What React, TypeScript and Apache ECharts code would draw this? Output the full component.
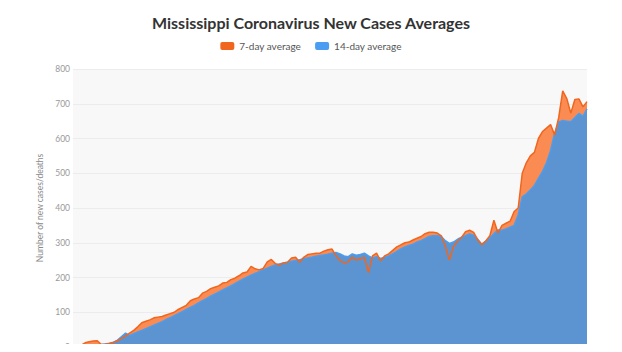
import React, { useEffect, useRef } from "react";
import * as echarts from "echarts";

const avg7: number[] = [
  3, 4, 5, 12, 15, 17, 18, 7, 8, 10, 13, 18, 25, 32,
  40, 48, 58, 70, 74, 78, 84, 86, 88, 92, 96, 100, 108, 114, 120, 133,
  138, 142, 155, 160, 168, 172, 176, 184, 186, 194, 198, 205, 213, 216,
  232, 225, 222, 226, 245, 252, 240, 236, 242, 244, 256, 258, 244, 258,
  266, 268, 270, 270, 276, 280, 282, 262, 248, 242, 245, 258, 250, 254,
  258, 214, 262, 270, 248, 262, 268, 278, 288, 294, 300, 302, 308, 313,
  318, 326, 330, 330, 328, 320, 290, 250, 288, 305, 315, 332, 336, 330,
  308, 294, 305, 320, 365, 328, 350, 356, 362, 390, 400, 500, 530, 550,
  560, 600, 620, 630, 640, 610, 660, 737, 715, 673, 712, 714, 691, 706,
];

const avg14: number[] = [
  3, 3, 4, 4, 5, 5, 6, 7, 9, 11, 14, 20, 30, 40,
  33, 38, 43, 48, 53, 58, 63, 68, 73, 79, 84, 90, 96, 102, 108, 114,
  120, 127, 133, 139, 146, 152, 158, 164, 170, 176, 182, 189, 195, 201,
  207, 212, 217, 222, 227, 232, 236, 239, 242, 244, 247, 249, 251, 254,
  256, 258, 261, 263, 265, 267, 270, 272, 268, 262, 260, 268, 264, 266,
  270, 262, 256, 260, 255, 258, 262, 268, 275, 282, 288, 292, 296, 302,
  306, 312, 318, 320, 320, 318, 306, 298, 302, 310, 316, 320, 325, 322,
  310, 296, 305, 314, 326, 337, 336, 340, 345, 350, 380, 432, 440, 452,
  465, 485, 505, 530, 565, 615, 647, 652, 650, 648, 660, 672, 664, 685,
];

const monthNames = ["Mar", "Apr", "May", "Jun", "Jul"];
const monthStartDay = [11, 1, 1, 1, 1];
const monthLengths = [31, 30, 31, 30, 31];

function buildDates(n: number): string[] {
  const out: string[] = [];
  let m = 0;
  let d = monthStartDay[0];
  while (out.length < n) {
    out.push(monthNames[m] + " " + d);
    d++;
    if (d > monthLengths[m]) {
      m++;
      d = 1;
    }
  }
  return out;
}

const dates = buildDates(avg7.length);

const yTicks = { min: 0, max: 800, interval: 100 };

const ORANGE_LINE = "#f0661e";
const ORANGE_FILL = "#fa8b52";
const BLUE_LINE = "#4a9df0";
const BLUE_FILL = "#5b94d0";

export default function App() {
  const ref = useRef<HTMLDivElement>(null);
  useEffect(() => {
    if (!ref.current) return;
    const chart = echarts.init(ref.current, null, { renderer: "svg" });
    chart.setOption({
      animation: false,
      backgroundColor: "#ffffff",
      title: {
        text: "Mississippi Coronavirus New Cases Averages",
        left: "center",
        top: 9,
        textStyle: {
          fontFamily: "Lato",
          fontWeight: "bold",
          fontSize: 16,
          color: "#333333",
        },
      },
      legend: {
        top: 36,
        left: "center",
        itemWidth: 14,
        itemHeight: 8,
        itemGap: 14,
        itemTextGap: 4,
        data: [
          { name: "7-day average", itemStyle: { color: ORANGE_LINE } },
          { name: "14-day average", itemStyle: { color: BLUE_LINE } },
        ],
        icon: "roundRect",
        textStyle: { fontFamily: "Lato", fontSize: 10, color: "#555555" },
      },
      grid: {
        left: 73,
        right: 35,
        top: 69,
        bottom: 5,
        show: true,
        backgroundColor: "#f8f8f8",
        borderWidth: 0,
      },
      xAxis: {
        type: "category",
        data: dates,
        boundaryGap: false,
        axisLine: { show: false },
        axisTick: { show: false },
        axisLabel: { show: false },
        splitLine: { show: false },
      },
      yAxis: {
        type: "value",
        min: yTicks.min,
        max: yTicks.max,
        interval: yTicks.interval,
        name: "Number of new cases/deaths",
        nameLocation: "middle",
        nameGap: 18,
        nameTextStyle: { fontFamily: "Lato", fontSize: 8.5, color: "#888888" },
        axisLine: { show: false },
        axisTick: { show: false },
        axisLabel: {
          fontFamily: "Lato",
          fontSize: 8.5,
          color: "#999999",
          margin: 3,
        },
        splitLine: { lineStyle: { color: "#ececec", width: 1 } },
      },
      series: [
        {
          name: "7-day average",
          type: "line",
          data: avg7,
          z: 1,
          showSymbol: false,
          lineStyle: { width: 0 },
          itemStyle: { color: ORANGE_LINE },
          areaStyle: { color: ORANGE_FILL, opacity: 1 },
        },
        {
          name: "14-day average",
          type: "line",
          data: avg14,
          z: 2,
          symbol: "circle",
          symbolSize: 3.5,
          showSymbol: true,
          lineStyle: { color: BLUE_LINE, width: 1.5 },
          itemStyle: { color: BLUE_LINE },
          areaStyle: { color: BLUE_FILL, opacity: 1 },
        },
        {
          name: "7-day average",
          type: "line",
          data: avg7,
          z: 3,
          symbol: "circle",
          symbolSize: 4,
          showSymbol: true,
          lineStyle: { color: ORANGE_LINE, width: 1.5 },
          itemStyle: { color: ORANGE_LINE },
        },
      ],
    });
    return () => chart.dispose();
  }, []);
  return <div ref={ref} style={{ width: 622, height: 352, margin: -8 }} />;
}
